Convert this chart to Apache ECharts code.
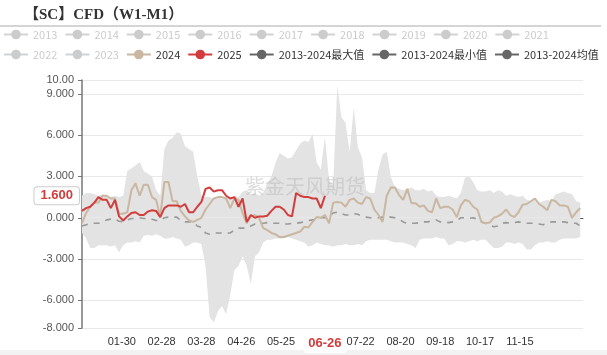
<!DOCTYPE html>
<html>
<head>
<meta charset="utf-8">
<script src="https://cdn.jsdelivr.net/npm/echarts@6/dist/echarts.min.js"></script>
<style>
  html, body { margin: 0; padding: 0; background: #fff; }
  #chart { width: 607px; height: 355px; }
</style>
</head>
<body>
<div id="chart"></div>
<script>
// 数据：每3天取一个点（从1月1日起），读自原图
const STEP = 3;
const hiddenYears = ['2013','2014','2015','2016','2017','2018','2019','2020','2021','2022','2023'];

// 2013-2024 最大值
const maxVals = [
  1.6, 1.8, 1.8, 1.7, 1.6, 1.7, 1.6, 1.5, 1.6, 1.5,
  1.6, 3.4, 3.6, 3.8, 4.05, 3.4, 3.2, 3.0, 2.0, 1.6,
  5.0, 5.6, 5.8, 6.2, 6.1, 5.2, 5.0, 4.8, 3.0, 1.6,
  1.5, 1.5, 1.4, 1.5, 1.4, 1.5, 1.4, 1.6, 1.5, 1.9,
  2.0, 1.7, 1.8, 1.6, 1.8, 2.5, 3.0, 4.0, 4.7, 4.5,
  4.3, 4.4, 4.9, 5.4, 5.6, 5.5, 6.1, 4.0, 3.5, 5.9,
  2.7, 2.4, 9.6, 7.3, 6.9, 4.8, 8.0, 5.1, 4.4, 2.0,
  1.8, 1.8, 3.5, 4.6, 4.8, 3.0, 2.2, 2.1, 2.0, 2.1,
  2.2, 2.0, 2.0, 2.1, 1.9, 2.0, 1.6, 1.5, 1.5, 1.6,
  1.5, 1.4, 1.8, 2.9, 3.0, 2.6, 2.0, 1.9, 1.9, 2.0,
  1.8, 2.0, 1.9, 1.6, 1.7, 1.6, 1.5, 1.6, 1.3, 1.2,
  1.3, 1.1, 1.2, 1.3, 1.2, 1.7, 1.8, 1.9, 1.8, 1.7,
  1.2, 1.1
];
// 2013-2024 最小值
const minVals = [
  -1.1, -1.5, -2.2, -2.2, -2.0, -2.0, -2.0, -2.1, -2.0, -2.5,
  -2.0, -1.8, -1.8, -1.7, -1.8, -1.3, -1.25, -1.3, -1.2, -1.3,
  -1.5, -1.5, -1.4, -1.5, -1.6, -2.1, -2.0, -1.8, -1.8, -1.9,
  -3.5, -7.2, -7.6, -6.8, -6.4, -7.0, -5.6, -3.8, -3.5, -2.8,
  -3.5, -4.8, -2.8, -2.5, -1.8, -1.6, -1.6, -1.5, -1.5, -1.5,
  -1.4, -1.5, -1.6, -1.7, -1.8, -2.1, -2.0, -1.8, -1.9, -2.0,
  -2.0, -2.1, -2.0, -2.0, -1.9, -2.0, -2.0, -1.9, -2.0, -1.7,
  -1.6, -1.6, -1.6, -1.6, -1.6, -1.7, -1.8, -1.8, -1.8, -1.9,
  -2.0, -2.2, -1.6, -1.5, -1.5, -1.5, -1.4, -1.5, -1.5, -2.0,
  -1.9, -1.7, -1.7, -1.8, -1.7, -1.6, -1.7, -1.6, -1.6, -1.9,
  -2.2, -2.2, -2.1, -1.8, -1.8, -1.9, -1.8, -1.9, -2.3, -2.3,
  -2.0, -1.8, -1.8, -1.7, -1.8, -1.8, -1.6, -1.5, -1.5, -1.5,
  -1.5, -1.4
];
// 2013-2024 均值
const meanVals = [
  -0.6, -0.5, -0.45, -0.4, -0.4, -0.3, -0.15, -0.1, -0.1, -0.25,
  -0.3, -0.15, -0.05, -0.05, 0.0, -0.05, -0.05, -0.1, -0.2, -0.2,
  0.0, 0.05, 0.05, 0.05, -0.2, -0.3, -0.3, -0.3, -0.6, -0.7,
  -1.1, -1.2, -1.1, -1.1, -1.1, -1.1, -1.1, -0.9, -0.75, -0.75,
  -0.75, -0.6, -0.45, -0.45, -0.4, -0.35, -0.4, -0.4, -0.4, -0.45,
  -0.45, -0.4, -0.4, -0.35, -0.3, -0.2, -0.15, -0.1, 0.0, 0.0,
  0.1, 0.35, 0.4, 0.3, 0.2, 0.2, 0.3, 0.25, 0.1, 0.05,
  0.0, 0.0, 0.0, 0.05, 0.1, 0.05, 0.0, -0.1, -0.3, -0.4,
  -0.4, -0.4, -0.35, -0.3, -0.3, -0.2, -0.15, -0.3, -0.3, -0.35,
  -0.3, -0.2, 0.0, 0.0, -0.05, 0.0, -0.1, -0.3, -0.4, -0.55,
  -0.65, -0.6, -0.4, -0.35, -0.4, -0.35, -0.3, -0.35, -0.4, -0.4,
  -0.4, -0.45, -0.5, -0.4, -0.3, -0.3, -0.3, -0.3, -0.35, -0.4,
  -0.4, -0.6
];
// 2024
const vals2024 = [
  -0.4, 0.35, 0.8, 1.1, 1.1, 1.6, 1.6, 1.4, 1.4, 0.3,
  0.3, 0.4, 2.0, 2.5, 1.6, 2.4, 2.4, 1.5, 1.3, 0.05,
  2.6, 2.6, 1.2, 1.2, 0.5, 0.1, -0.2, -0.3, -0.15, 0.0,
  0.6, 1.0, 1.4, 1.5, 1.5, 1.4, 0.7, 1.4, 1.3, 0.35,
  -0.4, 0.1, 0.2, 0.0, -0.75, -0.9, -1.1, -1.2, -1.4, -1.4,
  -1.3, -1.2, -1.1, -1.0, -0.65, -0.7, -0.3, 0.05, 0.0, 0.2,
  -0.4, 1.1, 1.15, 1.1, 0.8, 1.3, 1.4, 1.1, 1.0, 1.5,
  1.4, 0.6, 0.2, -0.3, 1.6, 2.2, 2.2, 1.65, 1.3, 2.1,
  1.05, 1.05, 0.8, 0.9, 0.5, 0.4, 1.4, 0.7, 0.8, 0.8,
  0.6, 0.05, 0.9, 1.3, 1.2, 0.8, 0.6, -0.3, -0.4, -0.35,
  0.0, 0.1, 0.3, 0.6, 0.2, 0.05, 0.4, 0.95, 1.0, 1.2,
  1.4, 1.0, 0.8, 0.55, 1.3, 1.2, 0.9, 0.9, 0.8, 0.0,
  0.4, 0.7
];
// 2025（截至06-26）
const vals2025 = [
  0.5, 0.7, 0.8, 1.1, 1.5, 1.3, 1.3, 0.7, 1.3, 0.1,
  -0.2, 0.1, 0.35, 0.4, 0.2, 0.2, 0.45, 0.55, 0.5, 0.05,
  0.7, 0.9, 0.9, 0.9, 0.8, 1.0, 0.4, 0.4, 0.8, 1.15,
  2.1, 2.2, 1.9, 2.0, 2.0, 1.6, 1.4, 1.5, 0.8, 1.4,
  -0.3, 0.2, 0.0, 0.1, 0.1, 0.15, 0.5, 0.8, 0.8, 0.6,
  0.2, 0.1, 1.8, 1.6, 1.5, 1.5, 1.4, 1.4, 0.7, 1.6
];
const latestDate = '06-26';
const latestValue = 1.6;

// 日期类目 01-01 ~ 12-31（闰年）
const categories = [];
for (let i = 0; i < 366; i++) {
  const d = new Date(2024, 0, 1 + i);
  categories.push(String(d.getMonth() + 1).padStart(2, '0') + '-' + String(d.getDate()).padStart(2, '0'));
}
const latestIdx = categories.indexOf(latestDate);

const toPairs = arr => arr.map((v, i) => [i * STEP, v]);

const chart = echarts.init(document.getElementById('chart'));

const C2024 = '#c9b7a1';
const C2025 = '#d23c3c';
const DARK = '#666';
const BAND = '#e3e3e3';

const series = hiddenYears.map(y => ({
  name: y, type: 'line', data: [], symbol: 'circle', showSymbol: false
}));
series.push(
  {
    name: '2013-2024最大值', type: 'line', data: toPairs(maxVals),
    symbol: 'circle', showSymbol: false, z: 1,
    lineStyle: { width: 0, color: DARK }, itemStyle: { color: DARK },
    areaStyle: { color: BAND, opacity: 1 }
  },
  {
    name: '2013-2024最小值', type: 'line', data: toPairs(minVals),
    symbol: 'circle', showSymbol: false, z: 1,
    lineStyle: { width: 0, color: DARK }, itemStyle: { color: DARK },
    areaStyle: { color: BAND, opacity: 1 }
  },
  {
    name: '2013-2024均值', type: 'line', data: toPairs(meanVals),
    symbol: 'circle', showSymbol: false, z: 3,
    lineStyle: { width: 1.6, color: '#999', type: [6, 6] }, itemStyle: { color: DARK }
  },
  {
    name: '2024', type: 'line', data: toPairs(vals2024),
    symbol: 'circle', showSymbol: false, z: 4,
    lineStyle: { width: 2, color: C2024 }, itemStyle: { color: C2024 }
  },
  {
    name: '2025', type: 'line', data: toPairs(vals2025),
    symbol: 'circle', showSymbol: false, z: 5,
    lineStyle: { width: 2, color: C2025 }, itemStyle: { color: C2025 }
  }
);

const selected = {};
hiddenYears.forEach(y => { selected[y] = false; });

const legendData = hiddenYears.map(y => ({ name: y }));
legendData.push(
  { name: '2024', itemStyle: { color: C2024 }, lineStyle: { color: C2024, width: 2 } },
  { name: '2025', itemStyle: { color: C2025 }, lineStyle: { color: C2025, width: 2 } },
  { name: '2013-2024最大值', itemStyle: { color: DARK }, lineStyle: { color: DARK, width: 2, opacity: 1 } },
  { name: '2013-2024最小值', itemStyle: { color: DARK }, lineStyle: { color: DARK, width: 2, opacity: 1 } },
  { name: '2013-2024均值', itemStyle: { color: DARK }, lineStyle: { color: DARK, width: 2 } }
);

const option = {
  animation: false,
  title: {
    text: '【SC】CFD（W1-M1）',
    left: 19, top: 3,
    textStyle: { fontFamily: "'Liberation Serif', 'Noto Sans CJK SC'", fontSize: 15, fontWeight: 'bold', color: '#333' }
  },
  legend: {
    data: legendData,
    selected: selected,
    left: 3, top: 28, width: 602, padding: 0,
    itemWidth: 24, itemHeight: 12, itemGap: 7,
    inactiveColor: '#ccc',
    lineStyle: { type: 'solid' },
    textStyle: { fontSize: 11, lineHeight: 13, color: '#333', fontFamily: "'Noto Sans CJK SC'" }
  },
  grid: { left: 82, right: 24, top: 80, bottom: 27 },
  xAxis: [
    {
      type: 'category', data: categories, boundaryGap: false, position: 'bottom',
      axisLine: { onZero: true, lineStyle: { color: '#555', width: 1 } },
      axisTick: { show: true, length: 4, interval: i => i > 0 && i % 29 === 0, lineStyle: { color: '#555' } },
      axisLabel: { show: false },
      splitLine: { show: false }
    },
    {
      type: 'category', data: categories, boundaryGap: false, position: 'bottom',
      axisLine: { show: false, onZero: false },
      axisTick: { show: false },
      axisLabel: {
        color: '#333', fontSize: 11, margin: 8,
        interval: i => i > 0 && i % 29 === 0 && i <= 319 && i !== 174
      },
      splitLine: { show: false },
      axisPointer: {
        show: true, type: 'line', value: latestIdx, status: 'show', snap: false,
        triggerTooltip: false,
        lineStyle: { opacity: 0 },
        label: {
          show: true, color: C2025, fontWeight: 'bold', fontSize: 13,
          backgroundColor: '#fff', padding: [3, 5], margin: 6
        }
      }
    }
  ],
  yAxis: {
    type: 'value', min: -8, max: 10,
    axisLine: { show: true, lineStyle: { color: '#777', width: 1.5 } },
    axisTick: { show: true, length: 4, lineStyle: { color: '#777' } },
    axisLabel: { color: '#555', fontSize: 11, formatter: v => v.toPrecision(4) },
    splitLine: { lineStyle: { color: '#e8e8e8' } },
    axisPointer: {
      show: true, type: 'line', value: latestValue, status: 'show', snap: false,
      triggerTooltip: false,
      lineStyle: { opacity: 0 },
      label: {
        show: true, color: C2025, fontWeight: 'bold', fontSize: 13,
        formatter: p => Number(p.value).toFixed(3),
        backgroundColor: '#fff', borderColor: '#ccc', borderWidth: 1, padding: [2, 6]
      }
    }
  },
  graphic: [
    { type: 'line', shape: { x1: 0, y1: 26, x2: 601, y2: 26 }, style: { stroke: '#aaa', lineWidth: 1 }, silent: true },
    { type: 'text', left: 245, top: 176, style: { text: '紫金天风期货', fontSize: 20, fill: 'rgba(180,180,180,0.45)', fontFamily: "'Noto Sans CJK SC'" }, silent: true, z: 100 },
    { type: 'rect', shape: { x: 0, y: 350, width: 607, height: 5 }, style: { fill: '#f2f2f2' }, silent: true }
  ],
  series: series
};

chart.setOption(option);
</script>
</body>
</html>
